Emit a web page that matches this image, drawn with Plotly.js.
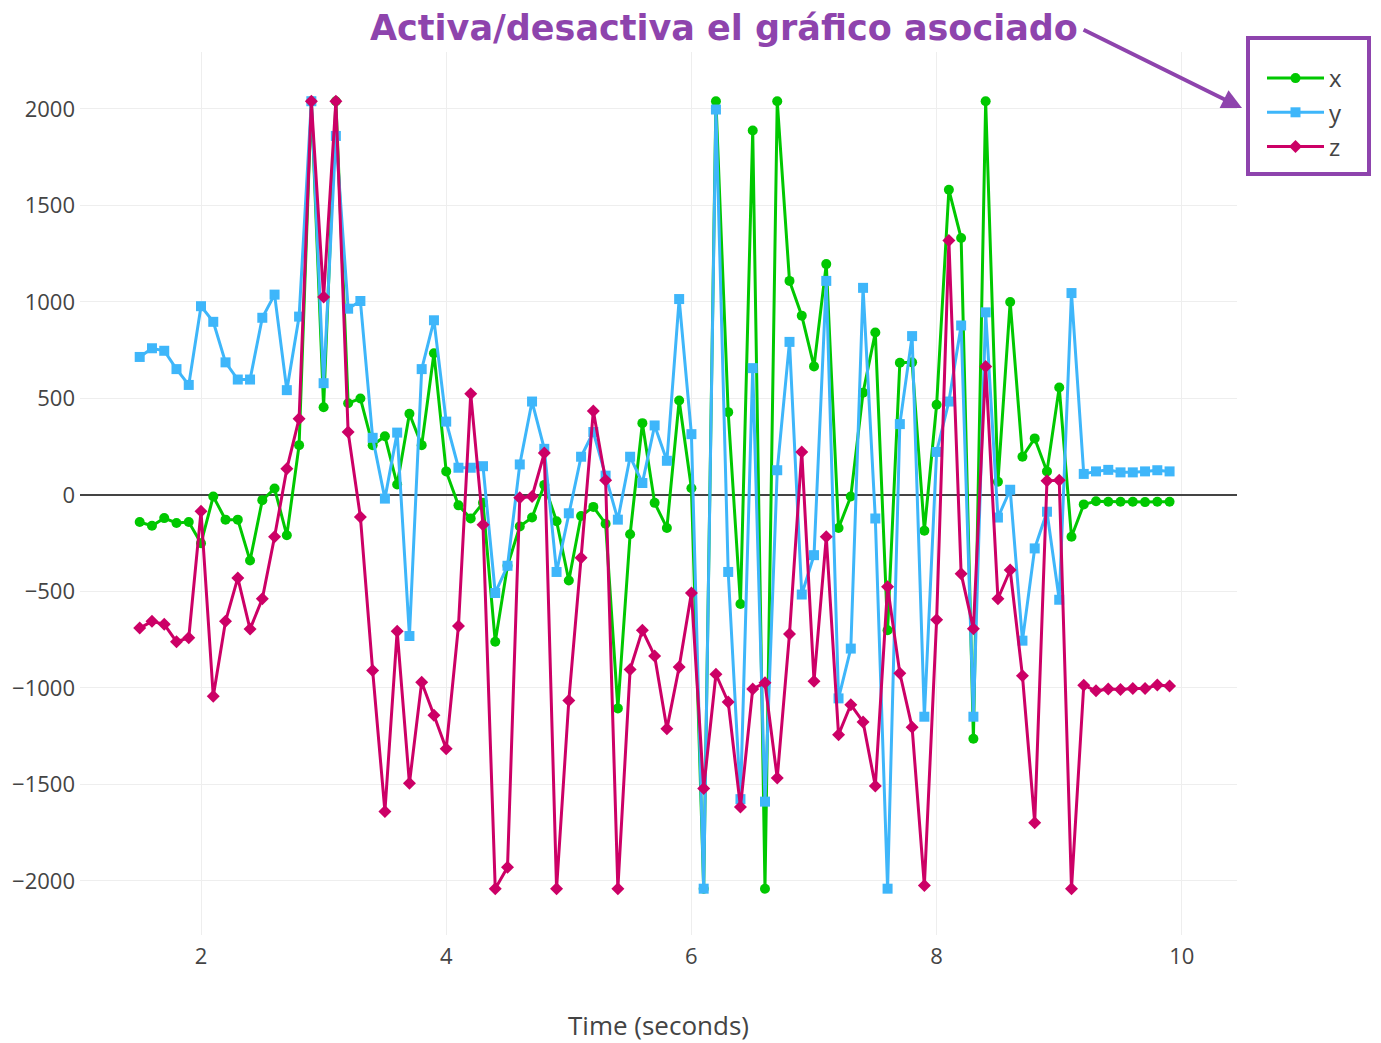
<!DOCTYPE html>
<html>
<head>
<meta charset="utf-8">
<script src="https://cdn.plot.ly/plotly-3.0.1.min.js"></script>
<style>html,body{margin:0;padding:0;background:#fff;}#chart{width:1381px;height:1043px;}</style>
</head>
<body>
<div id="chart"></div>
<script>
const time = [1.5,1.6,1.7,1.8,1.9,2.0,2.1,2.2,2.3,2.4,2.5,2.6,2.7,2.8,2.9,3.0,3.1,3.2,3.3,3.4,3.5,3.6,3.7,3.8,3.9,4.0,4.1,4.2,4.3,4.4,4.5,4.6,4.7,4.8,4.9,5.0,5.1,5.2,5.3,5.4,5.5,5.6,5.7,5.8,5.9,6.0,6.1,6.2,6.3,6.4,6.5,6.6,6.7,6.8,6.9,7.0,7.1,7.2,7.3,7.4,7.5,7.6,7.7,7.8,7.9,8.0,8.1,8.2,8.3,8.4,8.5,8.6,8.7,8.8,8.9,9.0,9.1,9.2,9.3,9.4,9.5,9.6,9.7,9.8,9.9];

const xVals = [-140,-160,-120,-145,-140,-250,-8,-128,-128,-340,-27,33,-209,258,2040,454,2040,475,500,258,304,54,421,258,734,122,-54,-122,-41,-761,-367,-163,-117,52,-136,-443,-109,-62,-149,-1106,-204,372,-41,-171,489,35,-2040,2040,429,-565,1888,-2040,2040,1109,929,666,1196,-171,-8,530,842,-701,685,687,-185,467,1581,1331,-1263,2040,68,1000,198,293,122,557,-217,-49,-33,-35,-35,-35,-37,-35,-35];

const yVals = [715,760,747,652,570,978,897,687,598,598,918,1038,543,924,2040,579,1860,965,1005,296,-19,323,-731,652,905,380,141,141,149,-508,-367,158,484,239,-399,-95,198,326,100,-128,198,62,360,177,1015,315,-2040,1997,-399,-1576,657,-1589,128,793,-516,-312,1109,-1054,-796,1073,-122,-2040,367,823,-1149,223,484,878,-1149,946,-117,27,-755,-277,-87,-543,1046,109,122,130,117,117,122,128,122];

const zVals = [-690,-655,-670,-760,-740,-85,-1043,-655,-430,-695,-538,-217,136,395,2040,1025,2040,326,-114,-910,-1640,-706,-1494,-970,-1141,-1315,-679,524,-155,-2040,-1929,-14,-8,217,-2040,-1065,-326,435,76,-2040,-905,-701,-834,-1212,-891,-508,-1521,-929,-1073,-1617,-1005,-973,-1467,-720,223,-965,-217,-1242,-1087,-1176,-1508,-475,-924,-1204,-2024,-647,1318,-408,-693,666,-538,-389,-937,-1698,73,76,-2040,-986,-1015,-1005,-1008,-1003,-1003,-985,-990];

const seriesNames = ['x','y','z'];
const xTicks = [2,4,6,8,10];
const yTicks = [-2000,-1500,-1000,-500,0,500,1000,1500,2000];
const titleText = 'Activa/desactiva el gráfico asociado';

const purple = '#8e44ad';
const colors = ['rgb(0,200,0)','rgb(62,182,250)','rgb(204,0,102)'];
const symbols = ['circle','square','diamond'];
const values = [xVals, yVals, zVals];

const traces = seriesNames.map((n,i)=>({
  type:'scatter', mode:'lines+markers', name:n,
  x: time, y: values[i],
  line:{color:colors[i], width:3},
  marker:{color:colors[i], symbol:symbols[i], size:10}
}));

const L=80, R=144, T=52, B=108, W=1381, H=1043;
const pw = W-L-R, ph = H-T-B;
const px = v => (v-L)/pw;
const py = v => (H-B-v)/ph;

const layout = {
  width:W, height:H,
  margin:{l:L, r:R, t:T, b:B, pad:0},
  paper_bgcolor:'#fff', plot_bgcolor:'#fff',
  font:{family:'"Open Sans", sans-serif', size:22, color:'#444'},
  xaxis:{range:[1.013,10.45], tickvals:xTicks, ticktext:xTicks.map(String),
    showgrid:true, gridcolor:'#eee', zeroline:false, showline:false,
    tickfont:{size:22}, ticklabelstandoff:6,
    title:{text:'Time (seconds)', font:{size:26, color:'#444'}, standoff:48}},
  yaxis:{range:[-2280,2295], tickvals:yTicks, ticktext:yTicks.map(v=>v<0?'\u2212'+Math.abs(v):String(v)),
    showgrid:true, gridcolor:'#eee', zeroline:true, zerolinecolor:'#444', zerolinewidth:1.5,
    showline:false, tickfont:{size:22}, ticklabelstandoff:4},
  showlegend:true,
  legend:{x:px(1262), y:py(56), xanchor:'left', yanchor:'top', font:{size:24, color:'#444'},
    itemwidth:57, bgcolor:'rgba(0,0,0,0)', borderwidth:0, tracegroupgap:0},
  shapes:[{type:'rect', xref:'paper', yref:'paper', x0:px(1248), x1:px(1369), y0:py(174), y1:py(38),
    line:{color:purple, width:4}, fillcolor:'rgba(0,0,0,0)'}],
  annotations:[{xref:'paper', yref:'paper', x:px(1242), y:py(108), ax:-162, ay:-80,
    axref:'pixel', ayref:'pixel', startstandoff:4,
    text:'<b>'+titleText+'</b>', showarrow:true, arrowhead:2, arrowsize:1, arrowwidth:4,
    arrowcolor:purple, xanchor:'right', yanchor:'middle',
    font:{family:'"DejaVu Sans", sans-serif', size:35, color:purple}}]
};

Plotly.newPlot('chart', traces, layout, {displayModeBar:false});
</script>
</body>
</html>
